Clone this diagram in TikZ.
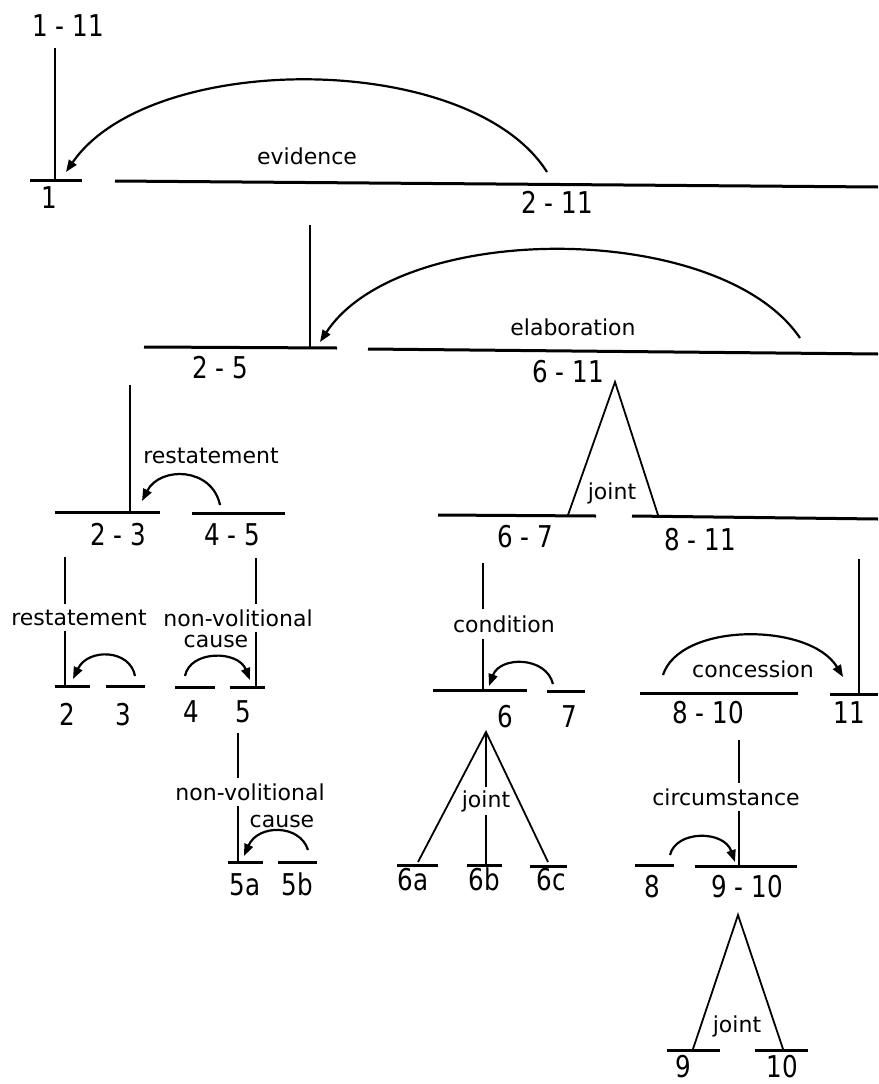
\documentclass[tikz,border=0pt]{standalone}
\usepackage{fontspec}
\setmainfont{DejaVu Sans}
\newfontfamily\numfont[FakeStretch=0.82]{DejaVu Sans}
\usetikzlibrary{arrows.meta}
\begin{document}
\begin{tikzpicture}[x=1pt,y=-1pt,
  bar/.style={line width=3pt},
  vline/.style={line width=2.4pt},
  rel/.style={line width=2.2pt,-{Triangle[length=12pt,width=9pt]}},
  leg/.style={line width=1.8pt},
  num/.style={anchor=base,inner sep=0pt,font=\numfont\fontsize{30}{34}\selectfont},
  lab/.style={anchor=base,inner xsep=0pt,inner ysep=5pt,font=\fontsize{22}{24}\selectfont},
]
\useasboundingbox (0,0) rectangle (878,1084);

% ---------- level 0 ----------
\node[num] (n111) at (68,36) {1 - 11};
\coordinate (t111) at (55,48);
\coordinate (b1L) at (30,180);  \coordinate (b1R) at (82,180);
\coordinate (b211L) at (115,181); \coordinate (b211R) at (878,187);
\draw[bar] (b1L) -- (b1R);
\draw[bar] (b211L) -- (b211R);
\draw[vline] (t111) -- (t111 |- b1L);
\node[num] (n1) at (49,208) {1};
\node[num] (n211) at (557,213) {2 - 11};
\coordinate (evS) at (547,172); \coordinate (evE) at (66,172);
\draw[rel] (evS) .. controls (470,50) and (150,50) .. (evE);
\node[lab] (evidence) at (307,164) {evidence};

% ---------- level 1 ----------
\coordinate (t211) at (310,225);
\coordinate (b25L) at (144,347); \coordinate (b25R) at (337,348);
\coordinate (b611L) at (368,349); \coordinate (b611R) at (878,354);
\draw[bar] (b25L) -- (b25R);
\draw[bar] (b611L) -- (b611R);
\draw[vline] (t211) -- (310,347);
\node[num] (n25) at (220,378) {2 - 5};
\node[num] (n611) at (568,382) {6 - 11};
\coordinate (elS) at (800,338); \coordinate (elE) at (320,342);
\draw[rel] (elS) .. controls (720,220) and (400,220) .. (elE);
\node[lab] (elaboration) at (573,335) {elaboration};
% joint 6-11
\coordinate (j1A) at (615,382);
\coordinate (j1L) at (568,515); \coordinate (j1R) at (658,515);
\draw[leg] (j1L) -- (j1A) -- (j1R);
\node[lab] (joint1) at (612,499) {joint};

% ---------- level 2 ----------
\coordinate (t25) at (130,385);
\coordinate (b23L) at (55,512); \coordinate (b23R) at (160,512);
\coordinate (b45L) at (192,513); \coordinate (b45R) at (285,513);
\draw[bar] (b23L) -- (b23R);
\draw[bar] (b45L) -- (b45R);
\draw[vline] (t25) -- (t25 |- b23L);
\node[num] (n23) at (118,545) {2 - 3};
\node[num] (n45) at (232,545) {4 - 5};
\coordinate (rs1S) at (220,505); \coordinate (rs1E) at (142,501);
\draw[rel] (rs1S) .. controls (212,467) and (160,466) .. (rs1E);
\node[lab] (restate1) at (211,463) {restatement};

\coordinate (b67L) at (438,515); \coordinate (b67R) at (596,516);
\coordinate (b811L) at (632,516); \coordinate (b811R) at (878,519);
\draw[bar] (b67L) -- (b67R);
\draw[bar] (b811L) -- (b811R);
\node[num] (n67) at (525,547) {6 - 7};
\node[num] (n811) at (700,550) {8 - 11};

% ---------- level 3 : 2-3 ----------
\coordinate (t23) at (65,557);
\coordinate (b2L) at (55,686); \coordinate (b2R) at (90,686);
\coordinate (b3L) at (106,686); \coordinate (b3R) at (145,686);
\draw[bar] (b2L) -- (b2R);
\draw[bar] (b3L) -- (b3R);
\node[lab] (restate2) at (79,625) {restatement};
\draw[vline] (t23) -- (t23 |- restate2.north);
\draw[vline] (t23 |- restate2.south) -- (t23 |- b2L);
\node[num] (n2) at (67,725) {2};
\node[num] (n3) at (123,725) {3};
\coordinate (rs2S) at (135,676); \coordinate (rs2E) at (73,679);
\draw[rel] (rs2S) .. controls (130,649) and (88,648) .. (rs2E);

% ---------- level 3 : 4-5 ----------
\coordinate (t45) at (256,558);
\coordinate (b4L) at (175,687); \coordinate (b4R) at (215,687);
\coordinate (b5L) at (230,687); \coordinate (b5R) at (265,687);
\draw[bar] (b4L) -- (b4R);
\draw[bar] (b5L) -- (b5R);
\node[lab] (nvc1a) at (238,626) {non-volitional};
\node[lab,inner ysep=0pt] (nvc1b) at (216,647) {cause};
\draw[vline] (t45) -- (t45 |- nvc1a.north);
\draw[vline] (t45 |- nvc1a.south) -- (t45 |- b5L);
\node[num] (n4) at (191,722) {4};
\node[num] (n5) at (243,722) {5};
\coordinate (nc1S) at (185,676); \coordinate (nc1E) at (250,680);
\draw[rel] (nc1S) .. controls (190,650) and (238,650) .. (nc1E);

% ---------- level 4 : 5 ----------
\coordinate (t5) at (238,733);
\coordinate (b5aL) at (228,862); \coordinate (b5aR) at (263,862);
\coordinate (b5bL) at (278,862); \coordinate (b5bR) at (317,862);
\draw[bar] (b5aL) -- (b5aR);
\draw[bar] (b5bL) -- (b5bR);
\node[lab] (nvc2a) at (250,800) {non-volitional};
\node[lab,inner ysep=0pt] (nvc2b) at (282,827) {cause};
\draw[vline] (t5) -- (t5 |- nvc2a.north);
\draw[vline] (t5 |- nvc2a.south) -- (t5 |- b5aL);
\node[num] (n5a) at (245,895) {5a};
\node[num] (n5b) at (297,895) {5b};
\coordinate (nc2S) at (308,850); \coordinate (nc2E) at (244,856);
\draw[rel] (nc2S) .. controls (300,824) and (258,824) .. (nc2E);

% ---------- level 3 : 6-7 ----------
\coordinate (t67) at (483,563);
\coordinate (b6L) at (433,690); \coordinate (b6R) at (527,690);
\coordinate (b7L) at (547,691); \coordinate (b7R) at (585,691);
\draw[bar] (b6L) -- (b6R);
\draw[bar] (b7L) -- (b7R);
\node[lab,inner ysep=6pt] (condition) at (504,632) {condition};
\draw[vline] (t67) -- (t67 |- condition.north);
\draw[vline] (t67 |- condition.south) -- (t67 |- b6L);
\node[num] (n6) at (505,727) {6};
\node[num] (n7) at (569,727) {7};
\coordinate (coS) at (553,684); \coordinate (coE) at (489,686);
\draw[rel] (coS) .. controls (546,656) and (500,656) .. (coE);

% ---------- level 3 : 8-11 ----------
\coordinate (t811) at (859,559);
\coordinate (b810L) at (640,693); \coordinate (b810R) at (798,693);
\coordinate (b11L) at (830,694); \coordinate (b11R) at (878,694);
\draw[bar] (b810L) -- (b810R);
\draw[bar] (b11L) -- (b11R);
\draw[vline] (t811) -- (t811 |- b11L);
\node[num] (n810) at (708,723) {8 - 10};
\node[num] (n11) at (849,723) {11};
\coordinate (csS) at (663,675); \coordinate (csE) at (843,677);
\draw[rel] (csS) .. controls (680,622) and (810,622) .. (csE);
\node[lab] (concession) at (753,677) {concession};

% ---------- level 4 : 6 ----------
\coordinate (j2A) at (486,732);
\coordinate (j2L) at (418,862); \coordinate (j2R) at (548,862);
\coordinate (b6aL) at (397,865); \coordinate (b6aR) at (438,865);
\coordinate (b6bL) at (467,865); \coordinate (b6bR) at (502,865);
\coordinate (b6cL) at (530,866); \coordinate (b6cR) at (567,866);
\draw[bar] (b6aL) -- (b6aR);
\draw[bar] (b6bL) -- (b6bR);
\draw[bar] (b6cL) -- (b6cR);
\draw[leg] (j2L) -- (j2A) -- (j2R);
\node[lab,inner ysep=3pt] (joint2) at (486,807) {joint};
\draw[vline] (j2A) -- (j2A |- joint2.north);
\draw[vline] (j2A |- joint2.south) -- (j2A |- b6bL);
\node[num] (n6a) at (413,890) {6a};
\node[num] (n6b) at (484,890) {6b};
\node[num] (n6c) at (551,890) {6c};

% ---------- level 4 : 8-10 ----------
\coordinate (t810) at (739,740);
\coordinate (b8L) at (635,865); \coordinate (b8R) at (674,865);
\coordinate (b910L) at (695,866); \coordinate (b910R) at (797,866);
\draw[bar] (b8L) -- (b8R);
\draw[bar] (b910L) -- (b910R);
\node[lab] (circ) at (726,805) {circumstance};
\draw[vline] (t810) -- (t810 |- circ.north);
\draw[vline] (t810 |- circ.south) -- (t810 |- b910L);
\node[num] (n8) at (652,897) {8};
\node[num] (n910) at (747,897) {9 - 10};
\coordinate (ciS) at (670,855); \coordinate (ciE) at (735,862);
\draw[rel] (ciS) .. controls (676,830) and (724,830) .. (ciE);

% ---------- level 5 : 9-10 ----------
\coordinate (j3A) at (738,915);
\coordinate (j3L) at (693,1049); \coordinate (j3R) at (783,1049);
\coordinate (b9L) at (667,1050); \coordinate (b9R) at (720,1050);
\coordinate (b10L) at (755,1050); \coordinate (b10R) at (808,1050);
\draw[bar] (b9L) -- (b9R);
\draw[bar] (b10L) -- (b10R);
\draw[leg] (j3L) -- (j3A) -- (j3R);
\node[lab] (joint3) at (737,1032) {joint};
\node[num] (n9) at (683,1077) {9};
\node[num] (n10) at (782,1077) {10};
\end{tikzpicture}
\end{document}
